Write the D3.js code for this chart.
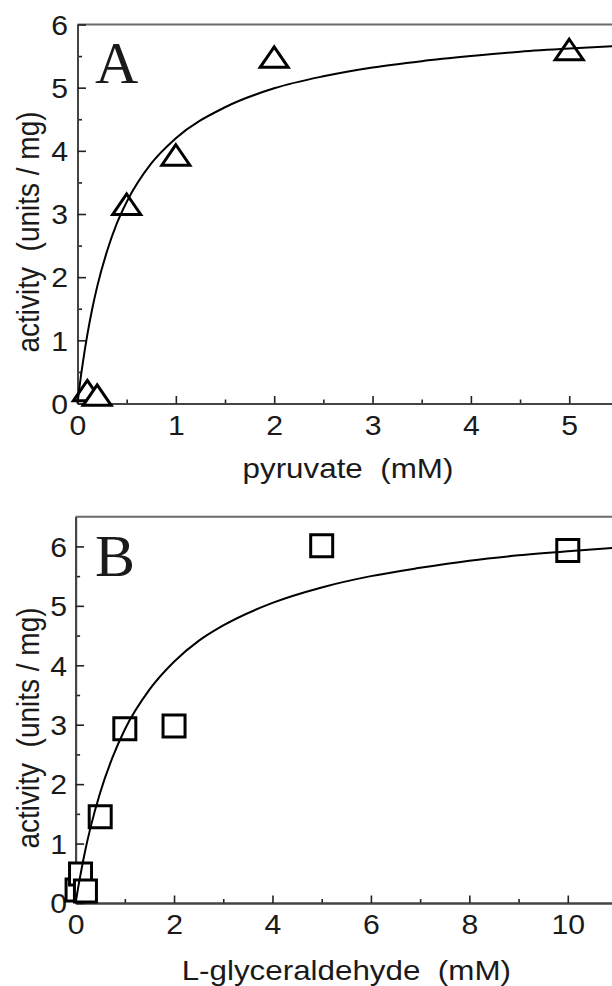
<!DOCTYPE html>
<html>
<head>
<meta charset="utf-8">
<script src="https://cdn.jsdelivr.net/npm/d3@7"></script>
<style>
  body { margin: 0; background: #fff; }
  svg text { font-family: "Liberation Sans", Arial, sans-serif; fill: #1a1a1a; }
</style>
</head>
<body>
<svg id="chart" width="612" height="986"></svg>
<script>
// panel A - pyruvate
const pyruvateConc = [0.1, 0.2, 0.5, 1, 2, 5];
const pyruvateActivity = [0.2, 0.13, 3.15, 3.93, 5.48, 5.6];
// fitted curve, points
const pyruvateFitConc = [0, 0.025, 0.05, 0.1, 0.15, 0.2, 0.3, 0.4, 0.5, 0.75, 1, 1.5, 2, 2.5, 3, 3.5, 4, 4.5, 5, 5.5];
const pyruvateFitActivity = [0, 0.32, 0.6, 1.09, 1.5, 1.85, 2.41, 2.85, 3.19, 3.8, 4.2, 4.69, 4.99, 5.18, 5.32, 5.42, 5.5, 5.57, 5.62, 5.66];
const pyruvateTicks = [0, 1, 2, 3, 4, 5];
const pyruvateMinorTicks = [0.5, 1.5, 2.5, 3.5, 4.5];

// panel B - L-glyceraldehyde
const glyConc = [0.03, 0.1, 0.2, 0.5, 1, 2, 5, 10];
const glyActivity = [0.22, 0.49, 0.2, 1.45, 2.93, 2.98, 6.01, 5.93];
const glyFitConc = [0, 0.05, 0.1, 0.2, 0.3, 0.5, 0.75, 1, 1.5, 2, 2.5, 3, 4, 5, 6, 7, 8, 9, 10, 11];
const glyFitActivity = [0, 0.25, 0.48, 0.9, 1.26, 1.86, 2.45, 2.92, 3.59, 4.06, 4.41, 4.67, 5.05, 5.31, 5.5, 5.64, 5.76, 5.85, 5.92, 5.98];
const glyTicks = [0, 2, 4, 6, 8, 10];
const glyMinorTicks = [1, 3, 5, 7, 9];

const activityTicks = [0, 1, 2, 3, 4, 5, 6];
const activityMinorTicks = [0.5, 1.5, 2.5, 3.5, 4.5, 5.5];

const SX = 1.12; // the figure text is slightly wide
const svg = d3.select('#chart');

function drawPanel(p) {
  const g = svg.append('g');
  const x = d3.scaleLinear().domain(p.xDomain).range(p.xRange);
  const y = d3.scaleLinear().domain(p.yDomain).range(p.yRange);
  const [x0, x1] = p.xRange;
  const [y0, y1] = p.yRange;

  // top frame line
  g.append('line')
    .attr('x1', x0).attr('x2', x1).attr('y1', y1).attr('y2', y1)
    .attr('stroke', '#6a6a6a').attr('stroke-width', 2);

  // minor ticks
  g.append('g').attr('transform', `translate(0,${y0})`)
    .call(d3.axisBottom(x).tickValues(p.xMinor).tickSize(-4).tickSizeOuter(0).tickFormat(''));
  g.append('g').attr('transform', `translate(${x0},0)`)
    .call(d3.axisLeft(y).tickValues(activityMinorTicks).tickSize(-4.5).tickSizeOuter(0).tickFormat(''));

  // major ticks + labels
  const xAxis = g.append('g').attr('transform', `translate(0,${y0})`)
    .call(d3.axisBottom(x).tickValues(p.xTicks).tickSize(-7.5).tickSizeOuter(0).tickFormat(d3.format('d')));
  xAxis.selectAll('text')
    .attr('y', 31.5).attr('dy', 0)
    .attr('transform', `scale(${SX},1)`)
    .style('font-size', '27px');

  const yAxis = g.append('g').attr('transform', `translate(${x0},0)`)
    .call(d3.axisLeft(y).tickValues(activityTicks).tickSize(-8.5).tickSizeOuter(0).tickFormat(d3.format('d')));
  yAxis.selectAll('text')
    .attr('x', -p.yLabelGap / SX).attr('dy', '0.36em')
    .attr('transform', `scale(${SX},1)`)
    .style('font-size', '27px');

  g.selectAll('.domain').attr('stroke', '#444').attr('stroke-width', 2);
  g.selectAll('.tick line').attr('stroke', '#222').attr('stroke-width', 1.6);

  // markers (white filled, drawn in data order)
  const pts = p.conc.map((c, i) => ({ c, a: p.activity[i] }));
  g.selectAll('path.marker')
    .data(pts)
    .join('path')
    .attr('class', 'marker')
    .attr('transform', d => `translate(${x(d.c)},${y(d.a)})`)
    .attr('d', p.marker)
    .attr('fill', '#fff')
    .attr('stroke', '#000')
    .attr('stroke-width', 3)
    .attr('stroke-linejoin', 'miter');

  // fitted curve
  const fit = p.fitConc.map((c, i) => [c, p.fitActivity[i]]);
  g.append('path')
    .datum(fit)
    .attr('fill', 'none')
    .attr('stroke', '#000')
    .attr('stroke-width', 2)
    .attr('d', d3.line().x(d => x(d[0])).y(d => y(d[1])).curve(d3.curveMonotoneX));

  // panel letter
  g.append('text')
    .attr('x', p.letterX).attr('y', p.letterY)
    .style('font-family', '"Liberation Serif", "Times New Roman", serif')
    .style('font-size', '60px')
    .text(p.letter);

  // axis titles
  g.append('text')
    .attr('transform', `translate(${(x0 + x1) / 2},${p.xTitleY}) scale(${SX},1)`)
    .attr('text-anchor', 'middle')
    .style('font-size', '28px')
    .style('white-space', 'pre')
    .text(p.xTitle);

  g.append('text')
    .attr('transform', `translate(39,${p.yTitleY}) scale(${SX},1) rotate(-90)`)
    .attr('text-anchor', 'middle')
    .style('font-size', '28px')
    .style('white-space', 'pre')
    .text('activity  (units / mg)');
}

const triangle = 'M0,-10.5L14,10L-14,10Z';
const square = 'M-11,-11H11V11H-11Z';

drawPanel({
  xDomain: [0, 5.5], xRange: [77.5, 618.4],
  yDomain: [0, 6], yRange: [403.5, 24.5],
  xTicks: pyruvateTicks, xMinor: pyruvateMinorTicks,
  conc: pyruvateConc, activity: pyruvateActivity,
  fitConc: pyruvateFitConc, fitActivity: pyruvateFitActivity,
  marker: triangle,
  letter: 'A', letterX: 95, letterY: 83,
  xTitle: 'pyruvate  (mM)', xTitleY: 478,
  yTitleY: 232, yLabelGap: 9.5
});

drawPanel({
  xDomain: [0, 11], xRange: [75.6, 617],
  yDomain: [0, 6.5], yRange: [903, 516.7],
  xTicks: glyTicks, xMinor: glyMinorTicks,
  conc: glyConc, activity: glyActivity,
  fitConc: glyFitConc, fitActivity: glyFitActivity,
  marker: square,
  letter: 'B', letterX: 95, letterY: 576,
  xTitle: 'L-glyceraldehyde  (mM)', xTitleY: 980,
  yTitleY: 728, yLabelGap: 8.6
});
</script>
</body>
</html>
